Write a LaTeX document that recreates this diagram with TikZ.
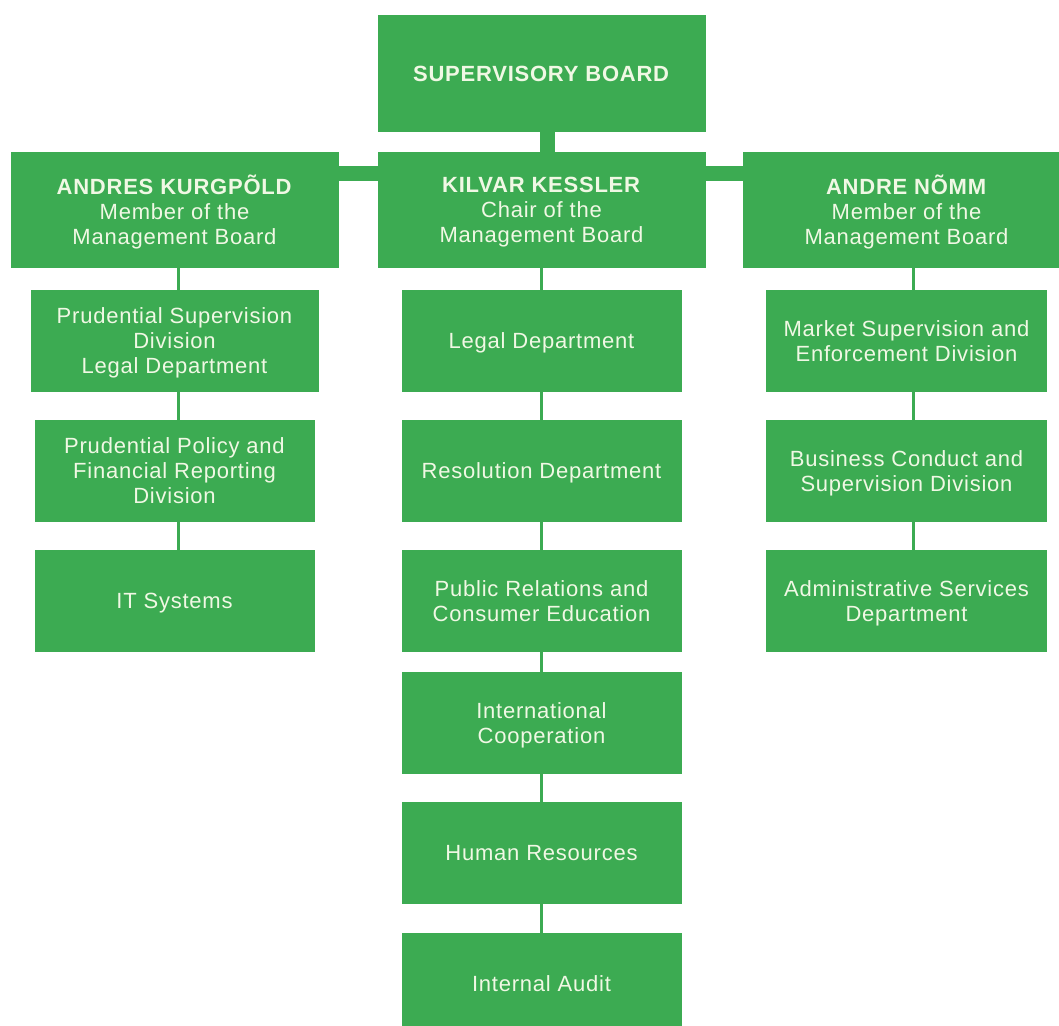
\documentclass[tikz,border=0pt]{standalone}
\usepackage{fontspec}
\setmainfont{Liberation Sans}[LetterSpace=3.5]
\usetikzlibrary{positioning}
\definecolor{fsagreen}{RGB}{60,171,82}
\definecolor{boxtext}{RGB}{240,248,228}
\tikzset{
    unit/.style = {
        fill = fsagreen,
        text = boxtext,
        align = center,
        inner sep = 0pt,
        outer sep = 0pt,
        text depth = 0pt,
        font = \fontsize{22}{25}\selectfont,
        },
    board/.style = {
        unit,
        minimum width = 328pt,
        minimum height = 116pt,
        },
    dept/.style = {
        unit,
        minimum width = 280pt,
        minimum height = 102pt,
        },
    link/.style = {
        draw = fsagreen,
        line width = 2.5pt,
        },
    trunk/.style = {
        draw = fsagreen,
        line width = 15pt,
        },
}

\begin{document}
\begin{tikzpicture}[
                node distance = 28pt,
            ]
            \useasboundingbox (0,0) rectangle (1059pt,-1025pt);

            % boards
            \node [board, minimum height=117pt] (sb) at (541.5pt,-73.5pt) {\textbf{SUPERVISORY BOARD}};
            \node [board, below=20pt of sb] (kk) {\textbf{KILVAR KESSLER}\\Chair of the\\Management Board};
            \node [board, left=39pt of kk] (ak) {\textbf{ANDRES KURGPÕLD}\\Member of the\\Management Board};
            \node [board, right=37pt of kk] (an) {\textbf{ANDRE NÕMM}\\Member of the\\Management Board};

            % left column
            \node [dept, minimum width=288pt, below=22pt of ak] (psd) {Prudential Supervision\\Division\\Legal Department};
            \node [dept, below=of psd] (ppfr) {Prudential Policy and\\Financial Reporting\\Division};
            \node [dept, below=of ppfr] (its) {IT Systems};

            % middle column
            \node [dept, below=22pt of kk] (legal) {Legal Department};
            \node [dept, below=of legal] (resol) {Resolution Department};
            \node [dept, below=of resol] (prce) {Public Relations and\\Consumer Education};
            \node [dept, below=20pt of prce] (intl) {International\\Cooperation};
            \node [dept, below=of intl] (hr) {Human Resources};
            \node [dept, below=29pt of hr] (audit) {Internal Audit};

            % right column
            \node [dept, minimum width=281pt, below=22pt of an] (msed) {Market Supervision and\\Enforcement Division};
            \node [dept, minimum width=281pt, below=of msed] (bcsd) {Business Conduct and\\Supervision Division};
            \node [dept, minimum width=281pt, below=of bcsd] (asd) {Administrative Services\\Department};

            % board links
            \draw [trunk] ([xshift=6pt] sb.south) -- ([xshift=6pt] kk.north);
            \draw [trunk] ([yshift=-21.5pt] ak.north east) -- ([yshift=-21.5pt] kk.north west);
            \draw [trunk] ([yshift=-21.5pt] kk.north east) -- ([yshift=-21.5pt] an.north west);

            % column links
            \draw [link, transform canvas={xshift=4pt}] (ak) -- (psd) -- (ppfr) -- (its);
            \draw [link] (kk) -- (legal) -- (resol) -- (prce) -- (intl) -- (hr) -- (audit);
            \draw [link, transform canvas={xshift=7pt}] (an) -- (msed) -- (bcsd) -- (asd);
        \end{tikzpicture}
\end{document}
